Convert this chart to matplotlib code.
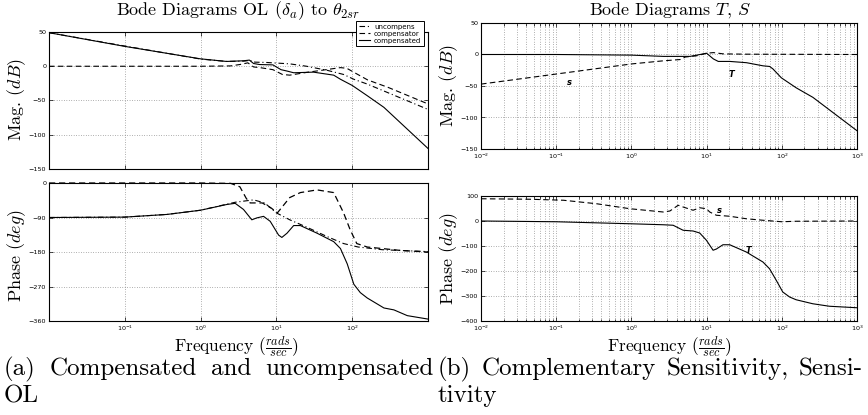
import matplotlib
matplotlib.use("Agg")
import matplotlib.pyplot as plt
from matplotlib.ticker import FixedLocator, NullLocator, NullFormatter, LogLocator

# ---- data ----
# (a) open loop magnitude
unc_mag_f = [0.01, 0.1, 1, 2.2, 3.7, 4.5, 5.2, 7.5, 15, 25, 47, 77, 105, 158, 1000]
unc_mag = [49, 29.5, 10.5, 7, 7.5, 8.5, 6, 5.5, 3.5, 0, -6, -12, -19, -26, -63]
cmp_mag_f = [0.01, 1, 2.5, 3.5, 4.2, 5.0, 6.5, 9, 12, 15, 25, 45, 70, 85, 110, 160, 300, 1000]
cmp_mag = [0, 0, 0.5, 3, 5, -1, -2.5, -5, -12, -13, -9, -5, -2, -3, -10, -20, -31, -55]
ol_mag_f = [0.01, 0.1, 1, 2.2, 3.7, 4.4, 5.0, 6.0, 9.0, 11.5, 13.8, 16.9, 30.8, 57, 70, 100, 158, 262, 1000]
ol_mag = [49, 29, 10.8, 7, 8, 9, 4, 2.5, 2, -5, -7, -9.5, -8.6, -13, -19, -28, -43, -60, -120]

# (a) open loop phase
unc_ph_f = [0.01, 0.1, 0.36, 1, 2.9, 5, 7, 10, 15, 25, 47, 77, 120, 250, 1000]
unc_ph = [-90, -89, -82, -71, -50, -44, -52, -78, -96, -115, -140, -158, -167, -174, -179]
cmp_ph_f = [0.01, 1, 2.5, 3.3, 4.0, 4.5, 6.5, 8.5, 10.3, 15, 20.7, 34.4, 57, 77, 94, 115, 158, 437, 1000]
cmp_ph = [0, 0, -1, -10, -40, -52, -52, -65, -78, -38, -25, -18, -25, -78, -122, -158, -167, -176, -180]
ol_ph_f = [0.01, 0.1, 0.36, 1, 2.22, 2.86, 3.68, 4.74, 5.52, 6.77, 8.29, 10.7, 11.8, 13.8, 16.9,
           20.7, 34.4, 57, 70, 86, 105, 128, 158, 262, 355, 533, 1000]
ol_ph = [-90, -89, -82, -71, -56, -53, -69, -96, -91, -87, -100, -136, -142, -131, -111,
         -111, -131, -153, -171, -211, -264, -286, -300, -326, -331, -346, -355]

# (b) T and S magnitude
t_mag_f = [0.01, 0.1, 1, 2.67, 6.03, 9.06, 10, 12.3, 14.3, 20.4, 33.9, 56.4, 69, 76.4, 98.6, 156, 259, 1000]
t_mag = [0, 0, -1, -3, -3, 1, 2, -7, -11, -11, -13, -18, -19, -23, -37, -53, -68, -121]
s_mag_f = [0.01, 0.1, 1, 2.67, 4.45, 5.2, 7.4, 10, 12.3, 16.7, 33.9, 1000]
s_mag = [-47, -31, -15, -10, -8, -4, -2, 2, 3, 1, 0.5, 0]

# (b) T and S phase
t_ph_f = [0.01, 0.1, 0.96, 2.65, 3.59, 4.87, 6.61, 8.1, 9.94, 12.2, 13.5, 16.5, 20.3, 33.7,
          56.1, 68.7, 84.3, 103, 127, 155, 258, 430, 1000]
t_ph = [0, -3, -11, -15, -17, -37, -40, -48, -77, -117, -112, -95, -95, -124,
        -164, -191, -237, -284, -304, -315, -331, -341, -347]
s_ph_f = [0.01, 0.045, 0.125, 0.345, 0.96, 2.65, 3.25, 4.19, 4.87, 6.61, 8.1, 9.94, 11.0,
          13.5, 20.3, 33.7, 56.1, 100, 155, 1000]
s_ph = [89, 87, 83, 69, 49, 36, 40, 63, 56, 43, 53, 49, 36, 23, 19, 9, 3, -3, -1, 0]

W, H = 868, 415
fig = plt.figure(figsize=(W / 100, H / 100), dpi=100)


def box(l, t, r, b):
    return [l / W, 1 - b / H, (r - l) / W, (b - t) / H]


DASH = (0, (5, 3))
DASHDOT = (0, (5, 2.5, 1, 2.5))
TICKFONT = 4.6
SERIF = dict(fontfamily="cmr10", math_fontfamily="cm")
GRID = dict(color="0.4", linestyle=(0, (1, 2.5)), lw=0.5)


def style(ax, ylim, yticks, minor):
    ax.set_xscale("log")
    ax.set_xlim(0.01, 1000)
    ax.set_ylim(*ylim)
    ax.yaxis.set_major_locator(FixedLocator(yticks))
    ax.tick_params(which="both", direction="in", top=True, right=True,
                   labelsize=TICKFONT, length=3, width=0.5, pad=2)
    ax.tick_params(which="minor", length=1.8)
    if minor:
        ax.xaxis.set_major_locator(LogLocator(base=10, numticks=10))
        ax.xaxis.set_minor_locator(LogLocator(base=10, subs=range(2, 10), numticks=20))
        ax.xaxis.set_minor_formatter(NullFormatter())
        ax.grid(True, which="both", axis="x", **GRID)
        ax.grid(True, which="major", axis="y", **GRID)
    else:
        ax.xaxis.set_major_locator(FixedLocator([0.1, 1, 10, 100]))
        ax.xaxis.set_minor_locator(NullLocator())
        ax.grid(True, which="major", **GRID)
    for s in ax.spines.values():
        s.set_linewidth(0.8)


# ---- (a) ----
ax1 = fig.add_axes(box(49, 32, 428, 169))
ax1.plot(unc_mag_f, unc_mag, color="k", lw=0.8, linestyle=DASHDOT, label="uncompens")
ax1.plot(cmp_mag_f, cmp_mag, color="k", lw=0.8, linestyle=DASH, label="compensator")
ax1.plot(ol_mag_f, ol_mag, color="k", lw=0.8, label="compensated")
style(ax1, (-150, 50), [50, 0, -50, -100, -150], False)
ax1.tick_params(labelbottom=False)
leg = ax1.legend(loc="upper right", bbox_to_anchor=(0.998, 1.105), fontsize=5,
                 handlelength=1.6, handletextpad=0.6, borderpad=0.35, labelspacing=0.15,
                 fancybox=False, framealpha=1, edgecolor="k")
leg.get_frame().set_linewidth(0.7)

ax2 = fig.add_axes(box(49, 183, 428, 321))
ax2.plot(unc_ph_f, unc_ph, color="k", lw=0.8, linestyle=DASHDOT)
ax2.plot(cmp_ph_f, cmp_ph, color="k", lw=0.9, linestyle=DASH, clip_on=False)
ax2.plot(ol_ph_f, ol_ph, color="k", lw=0.8)
style(ax2, (-360, 0), [0, -90, -180, -270, -360], False)

# ---- (b) ----
ax3 = fig.add_axes(box(481, 23, 857, 149))
ax3.plot(t_mag_f, t_mag, color="k", lw=0.8)
ax3.plot(s_mag_f, s_mag, color="k", lw=0.8, linestyle=DASH)
style(ax3, (-150, 50), [50, 0, -50, -100, -150], True)
ax3.text(0.148, -44, "s", fontsize=6, fontstyle="italic", fontweight="bold", ha="center", va="center")
ax3.text(21.5, -31, "T", fontsize=6, fontstyle="italic", fontweight="bold", ha="center", va="center")

ax4 = fig.add_axes(box(481, 196, 857, 321))
ax4.plot(t_ph_f, t_ph, color="k", lw=0.8)
ax4.plot(s_ph_f, s_ph, color="k", lw=0.8, linestyle=DASH)
style(ax4, (-400, 100), [100, 0, -100, -200, -300, -400], True)
ax4.text(14.8, 43, "s", fontsize=6, fontstyle="italic", fontweight="bold", ha="center", va="center")
ax4.text(35.5, -117, "T", fontsize=6, fontstyle="italic", fontweight="bold", ha="center", va="center")

# ---- titles and axis labels ----
LAB = 13
fig.text(238.5 / W, 1 - 15 / H, r"Bode Diagrams OL $(\delta_a)$ to $\theta_{2sr}$",
         ha="center", va="baseline", fontsize=LAB, **SERIF)
fig.text(670 / W, 1 - 15 / H, r"Bode Diagrams $T$, $S$",
         ha="center", va="baseline", fontsize=LAB, **SERIF)
fig.text(17 / W, 1 - 100 / H, r"Mag. $(dB)$", rotation=90, ha="center", va="center", fontsize=LAB, **SERIF)
fig.text(17 / W, 1 - 255 / H, r"Phase $(deg)$", rotation=90, ha="center", va="center", fontsize=LAB, **SERIF)
fig.text(449 / W, 1 - 86 / H, r"Mag. $(dB)$", rotation=90, ha="center", va="center", fontsize=LAB, **SERIF)
fig.text(449 / W, 1 - 258 / H, r"Phase $(deg)$", rotation=90, ha="center", va="center", fontsize=LAB, **SERIF)
fig.text(236 / W, 1 - 346 / H, r"Frequency ($\frac{rads}{sec}$)", ha="center", va="center",
         fontsize=12.5, **SERIF)
fig.text(669 / W, 1 - 346 / H, r"Frequency ($\frac{rads}{sec}$)", ha="center", va="center",
         fontsize=12.5, **SERIF)

# ---- justified sub-captions ----
CAP = 18
renderer = fig.canvas.get_renderer()


def justified(words, x0, x1, ybase):
    texts = [fig.text(0, 1 - ybase / H, w, fontsize=CAP, fontfamily="cmr10", va="baseline")
             for w in words]
    widths = [t.get_window_extent(renderer=renderer).width for t in texts]
    gap = (x1 - x0 - sum(widths)) / (len(words) - 1)
    x = x0
    for t, w in zip(texts, widths):
        t.set_x(x / W)
        x += w + gap


justified(["(a)", "Compensated", "and", "uncompensated"], 4, 433, 375)
justified(["(b)", "Complementary", "Sensitivity,", "Sensi-"], 438, 863, 375)
fig.text(4 / W, 1 - 402 / H, "OL", fontsize=CAP, fontfamily="cmr10", va="baseline")
fig.text(438 / W, 1 - 402 / H, "tivity", fontsize=CAP, fontfamily="cmr10", va="baseline")

fig.savefig("out.png", dpi=100)
